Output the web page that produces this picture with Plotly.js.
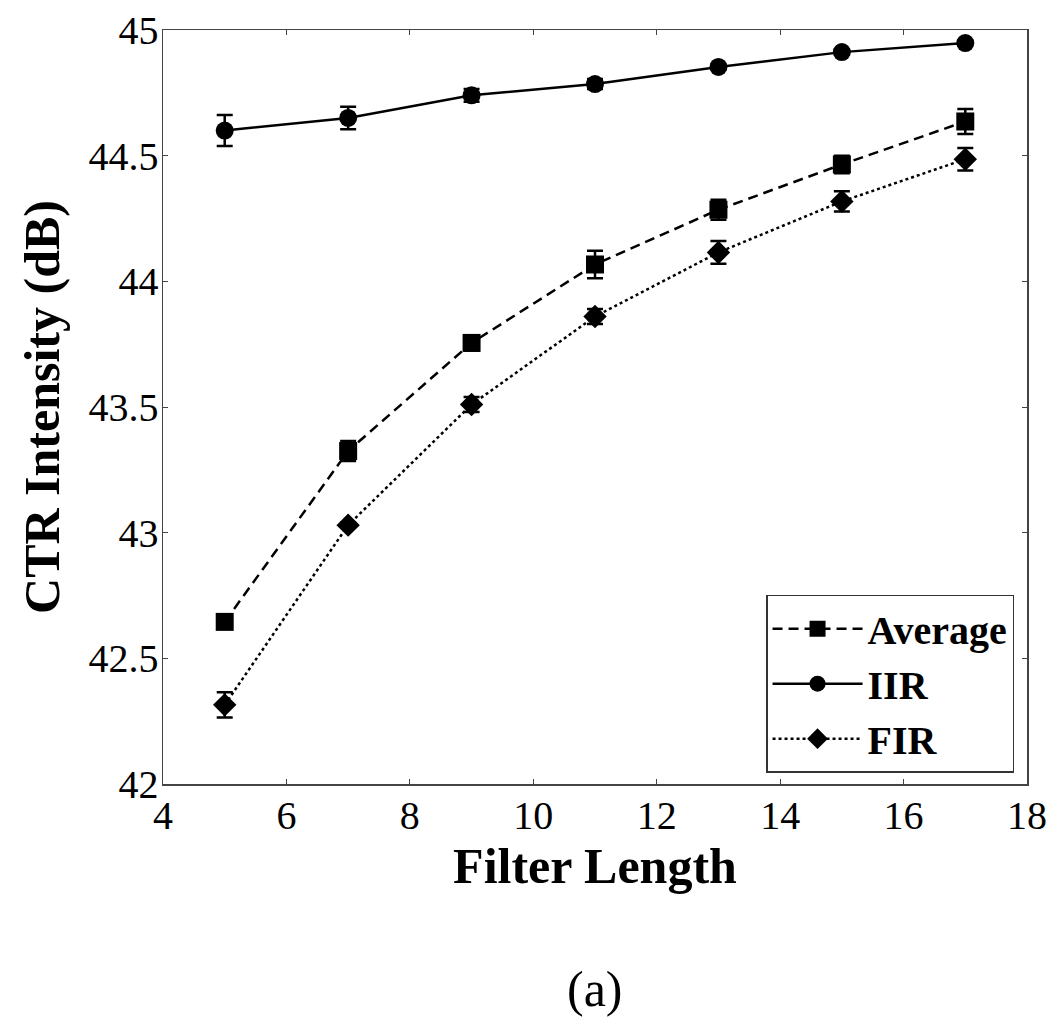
<!DOCTYPE html>
<html>
<head>
<meta charset="utf-8">
<script src="https://cdn.plot.ly/plotly-3.0.1.min.js"></script>
<style>html,body{margin:0;padding:0;background:#fff;}#chart{width:1050px;height:1019px;}</style>
</head>
<body>
<div id="chart"></div>
<script>
const filterLength = [5, 7, 9, 11, 13, 15, 17];
const averageVals = [42.645, 43.325, 43.755, 44.067, 44.285, 44.465, 44.636];
const averageErr  = [0.015, 0.04, 0.03, 0.055, 0.04, 0.035, 0.05];
const iirVals = [44.60, 44.65, 44.74, 44.785, 44.853, 44.912, 44.948];
const iirErr  = [0.062, 0.045, 0.025, 0.02, 0.01, 0.01, 0.01];
const firVals = [42.315, 43.03, 43.51, 43.86, 44.115, 44.318, 44.486];
const firErr  = [0.05, 0.01, 0.03, 0.03, 0.045, 0.04, 0.045];
const seriesNames = ['Average', 'IIR', 'FIR'];
const xTicks = [4, 6, 8, 10, 12, 14, 16, 18];
const yTicks = [42, 42.5, 43, 43.5, 44, 44.5, 45];
const yTickText = ['42', '42.5', '43', '43.5', '44', '44.5', '45'];

const font = 'Liberation Serif';
function mk(name, y, err, symbol, dash) {
  return {
    x: filterLength, y: y, name: name, type: 'scatter', mode: 'lines+markers',
    line: {color: '#000', width: 2.5, dash: dash},
    marker: {symbol: symbol, size: 18, color: '#000'},
    error_y: {type: 'data', array: err, visible: true, color: '#000', thickness: 2.5, width: 8}
  };
}
const data = [
  mk(seriesNames[0], averageVals, averageErr, 'square', '10px,6px'),
  mk(seriesNames[1], iirVals, iirErr, 'circle', 'solid'),
  mk(seriesNames[2], firVals, firErr, 'diamond', '3px,3px')
];
const layout = {
  width: 1050, height: 1019,
  font: {family: font, color: '#000'},
  margin: {l: 163, r: 23, t: 30, b: 235},
  paper_bgcolor: '#fff', plot_bgcolor: '#fff',
  showlegend: true,
  legend: {
    x: 0.985, y: 0.015, xanchor: 'right', yanchor: 'bottom',
    bgcolor: '#fff', bordercolor: '#333', borderwidth: 1.5,
    font: {family: font, size: 40, color: '#000', weight: 'bold'},
    itemwidth: 90, tracegroupgap: 0
  },
  xaxis: {
    range: [4, 18], tickvals: xTicks,
    ticks: 'inside', ticklen: 5, tickcolor: '#444', mirror: 'allticks',
    showline: true, linecolor: '#444', linewidth: 1.5, showgrid: false, zeroline: false,
    ticklabelstandoff: -5,
    tickfont: {family: font, size: 40, color: '#000'},
    title: {text: '<b>Filter Length</b>', font: {family: font, size: 50, color: '#000'}, standoff: 3}
  },
  yaxis: {
    range: [42, 45], tickvals: yTicks, ticktext: yTickText,
    ticks: 'inside', ticklen: 5, tickcolor: '#444', mirror: 'allticks',
    showline: true, linecolor: '#444', linewidth: 1.5, showgrid: false, zeroline: false,
    ticklabelstandoff: -5,
    tickfont: {family: font, size: 40, color: '#000'},
    title: {text: '<b>CTR Intensity (dB)</b>', font: {family: font, size: 50, color: '#000'}, standoff: 13}
  },
  annotations: [{
    text: '(a)', xref: 'paper', yref: 'paper', x: 0.5, y: -0.272,
    xanchor: 'center', yanchor: 'middle', showarrow: false,
    font: {family: font, size: 50, color: '#000'}
  }]
};
Plotly.newPlot('chart', data, layout, {displayModeBar: false, staticPlot: true});
</script>
</body>
</html>
